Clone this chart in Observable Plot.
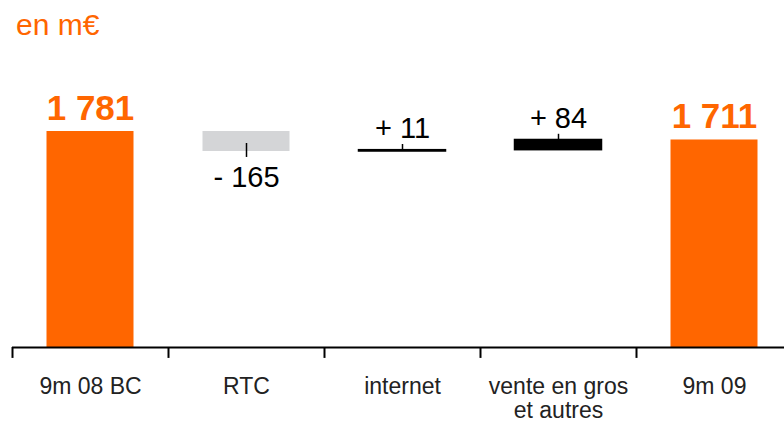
<!DOCTYPE html>
<html><head><meta charset="utf-8">
<script src="https://cdn.jsdelivr.net/npm/d3@7"></script>
<script src="https://cdn.jsdelivr.net/npm/@observablehq/plot@0.6"></script>
<style>
body{margin:0;background:#fff;font-family:"Liberation Sans",Arial,sans-serif;}
#title{height:50px;line-height:50px;padding-left:16px;font-size:30px;color:#ff6600;}
</style></head><body>
<div id="title">en m€</div>
<div id="chart"></div>
<script>
const categories = ["9m 08 BC", "RTC", "internet", "vente en gros\net autres", "9m 09"];
const values = [1781, -165, 11, 84, 1711];
const kinds = ["total", "delta", "delta", "delta", "total"];
const valueLabels = ["1 781", "- 165", "+ 11", "+ 84", "1 711"];

let run = 0;
const data = categories.map((c, i) => {
  let y1, y2;
  if (kinds[i] === "total") { y1 = 0; y2 = values[i]; run = values[i]; }
  else { y1 = run; y2 = run + values[i]; run = y2; }
  return {cat: c, value: values[i], kind: kinds[i], label: valueLabels[i],
          lo: Math.min(y1, y2), hi: Math.max(y1, y2), end: y2};
});
const fillOf = d => d.kind === "total" ? "#ff6600" : d.value < 0 ? "#d4d5d7" : "#000000";
const deltas = data.filter(d => d.kind === "delta");
const above = data.filter(d => !(d.kind === "delta" && d.value < 0));
const below = data.filter(d => d.kind === "delta" && d.value < 0);

const W = 784, H = 372;
const band = (792 - 12) / categories.length;

const chart = Plot.plot({
  width: W, height: H,
  marginLeft: 12, marginRight: 0, marginTop: 0, marginBottom: 75,
  style: {fontFamily: "Liberation Sans, Arial, sans-serif", background: "#fff", overflow: "visible"},
  x: {domain: categories, range: [12, 792], padding: 0, axis: null},
  y: {domain: [0, 1781], range: [297, 81], axis: null},
  marks: [
    Plot.barY(data, {x: "cat", y1: "lo", y2: "hi", fill: fillOf, insetLeft: 34.5, insetRight: 34.5}),
    Plot.barY(deltas.filter(d => d.value > 0), {x: "cat", y1: "lo", y2: "hi", fill: "#000", stroke: "#000", strokeWidth: 1.5, insetLeft: 34.5, insetRight: 34.5}),
    // leader ticks
    Plot.ruleX(deltas, {x: "cat", y1: d => d.value < 0 ? d.end + 66 : d.end, y2: d => d.value < 0 ? d.end - 49 : d.end + 47, stroke: "#000", strokeWidth: 1.5}),
    // baseline
    Plot.ruleY([0], {stroke: "#000", strokeWidth: 2}),
    // axis ticks at band boundaries
    Plot.ruleX(categories, {x: d => d, y1: 0, y2: -90, dx: -band / 2, stroke: "#000", strokeWidth: 2}),
    Plot.axisX({tickSize: 0, tickPadding: 30, fontSize: 23, lineHeight: 1.02, label: null, color: "#222"}),
    // labels above
    Plot.text(above.filter(d => d.kind === "total"), {x: "cat", y: "hi", text: "label", lineAnchor: "bottom", dy: -12, fontSize: 35, fontWeight: "bold", fill: "#ff6600"}),
    Plot.text(above.filter(d => d.kind === "delta"), {x: "cat", y: "hi", text: "label", lineAnchor: "bottom", dy: -12, fontSize: 29, fill: "#000"}),
    Plot.text(below, {x: "cat", y: "lo", text: "label", lineAnchor: "top", dy: 15, fontSize: 29, fill: "#000"})
  ]
});
document.getElementById("chart").appendChild(chart);
</script>
</body></html>
